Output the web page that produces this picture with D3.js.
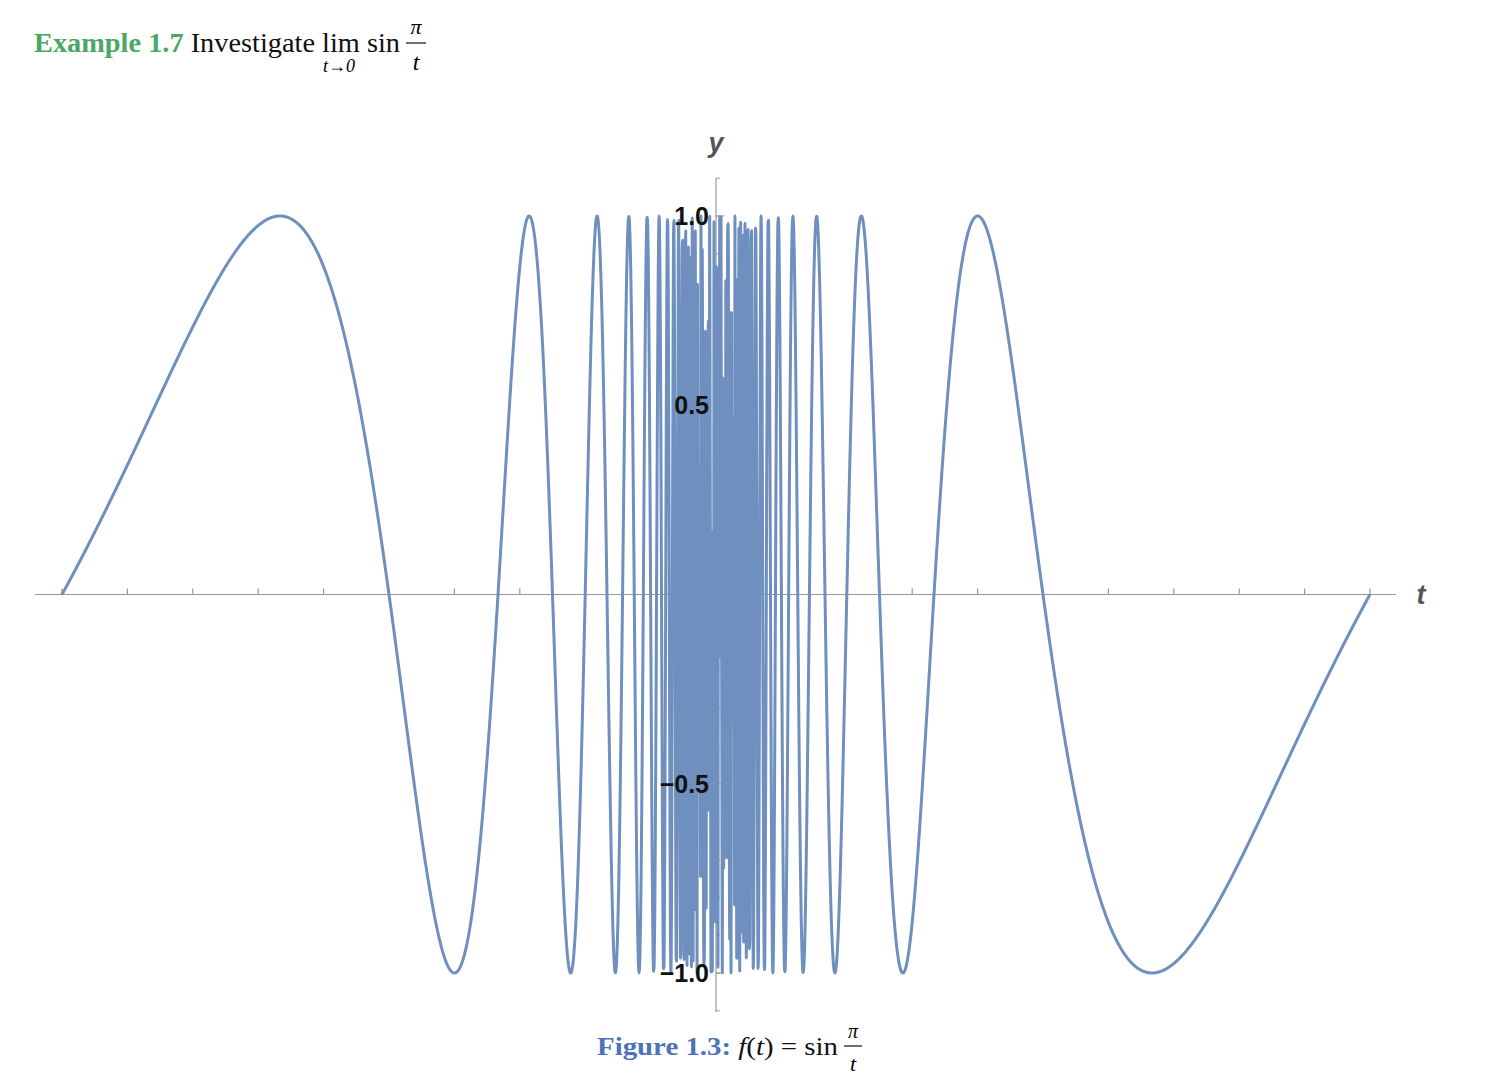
<!DOCTYPE html>
<html><head><meta charset="utf-8">
<script src="https://cdn.jsdelivr.net/npm/d3@7"></script>
<style>body{margin:0;background:#fff}</style>
</head><body>
<svg id="c" width="1508" height="1086"></svg>
<script>
// f(t) = sin(pi / t) on [-1, 1]
const tDomain = [-1, 1];
const yDomain = [-1, 1];
const sampleCount = 3001;
const xTicks = d3.range(-1, 1.0001, 0.1);
const yTickValues = [-1, -0.5, 0.5, 1];
const yTickLabels = ["\u22121.0", "\u22120.5", "0.5", "1.0"];
const f = t => Math.sin(Math.PI / t);

const svg = d3.select("#c");
const x = d3.scaleLinear().domain(tDomain).range([62, 1370]);
const y = d3.scaleLinear().domain(yDomain).range([973, 216]);
const x0 = x(0), y0 = y(0);
const serif = "Liberation Serif, Times New Roman, serif";

// title
const title = svg.append("text").attr("x", 34).attr("y", 52)
  .attr("font-family", serif).attr("font-size", 28)
  .attr("textLength", 366).attr("lengthAdjust", "spacingAndGlyphs");
title.append("tspan").attr("fill", "#4aa866").attr("font-weight", "bold").text("Example 1.7");
title.append("tspan").attr("fill", "#111").text(" Investigate lim sin");
svg.append("text").attr("x", 339).attr("y", 72).attr("text-anchor", "middle").attr("font-family", serif)
  .attr("font-style", "italic").attr("font-size", 18).text("t\u21920");
svg.append("text").attr("x", 416).attr("y", 34).attr("text-anchor", "middle").attr("font-family", serif)
  .attr("font-style", "italic").attr("font-size", 22).text("\u03c0");
svg.append("line").attr("x1", 406).attr("x2", 426).attr("y1", 43).attr("y2", 43).attr("stroke", "#111").attr("stroke-width", 1.2);
svg.append("text").attr("x", 416).attr("y", 70).attr("text-anchor", "middle").attr("font-family", serif)
  .attr("font-style", "italic").attr("font-size", 24).text("t");

// axes
svg.append("line").attr("x1", 35).attr("x2", 1396).attr("y1", y0).attr("y2", y0).attr("stroke", "#999").attr("stroke-width", 1.2);
svg.append("line").attr("x1", x0).attr("x2", x0).attr("y1", 178).attr("y2", 1012).attr("stroke", "#999").attr("stroke-width", 1.2);
svg.selectAll(".xt").data(xTicks.filter(d => Math.abs(d) > 1e-9)).join("line")
  .attr("x1", d => x(d)).attr("x2", d => x(d)).attr("y1", y0 - 6).attr("y2", y0)
  .attr("stroke", "#999").attr("stroke-width", 1.2);
const yMinor = d3.range(-1.1, 1.1001, 0.1);
svg.selectAll(".ym").data(yMinor).join("line")
  .attr("x1", x0).attr("x2", x0 + 4).attr("y1", d => y(d)).attr("y2", d => y(d))
  .attr("stroke", "#999").attr("stroke-width", 1);
svg.selectAll(".yM").data(yTickValues).join("line")
  .attr("x1", x0).attr("x2", x0 + 8).attr("y1", d => y(d)).attr("y2", d => y(d))
  .attr("stroke", "#999").attr("stroke-width", 1.2);

// curve
const pts = d3.range(sampleCount + 1).map(i => tDomain[0] + (tDomain[1] - tDomain[0]) * i / sampleCount)
  .filter(t => t !== 0).map(t => [t, f(t)]);
svg.append("path").datum(pts).attr("fill", "none").attr("stroke", "#6f8fbf").attr("stroke-width", 3)
  .attr("stroke-linejoin", "round")
  .attr("d", d3.line().curve(d3.curveMonotoneX).x(d => x(d[0])).y(d => y(d[1])));

// tick labels
svg.selectAll(".yl").data(yTickValues).join("text")
  .attr("x", x0 - 7).attr("y", d => y(d) + 9).attr("text-anchor", "end")
  .attr("font-family", "Liberation Sans, Arial, sans-serif").attr("font-weight", "bold").attr("font-size", 25)
  .attr("fill", "#111").text((d, i) => yTickLabels[i]);

// axis labels
svg.append("text").attr("x", x0).attr("y", 152).attr("text-anchor", "middle")
  .attr("font-family", "Liberation Sans, Arial, sans-serif").attr("font-weight", "bold").attr("font-style", "italic")
  .attr("font-size", 27).attr("fill", "#555").text("y");
svg.append("text").attr("x", 1421).attr("y", 604).attr("text-anchor", "middle")
  .attr("font-family", "Liberation Sans, Arial, sans-serif").attr("font-weight", "bold").attr("font-style", "italic")
  .attr("font-size", 27).attr("fill", "#555").text("t");

// caption
const cap = svg.append("text").attr("x", 597).attr("y", 1055).attr("font-family", serif).attr("font-size", 26)
  .attr("textLength", 241).attr("lengthAdjust", "spacingAndGlyphs");
cap.append("tspan").attr("fill", "#4d72b8").attr("font-weight", "bold").text("Figure 1.3:");
cap.append("tspan").attr("fill", "#111").attr("font-style", "italic").text(" f");
cap.append("tspan").attr("fill", "#111").text("(");
cap.append("tspan").attr("fill", "#111").attr("font-style", "italic").text("t");
cap.append("tspan").attr("fill", "#111").text(") = sin");
svg.append("text").attr("x", 853).attr("y", 1038).attr("text-anchor", "middle").attr("font-family", serif)
  .attr("font-style", "italic").attr("font-size", 20).text("\u03c0");
svg.append("line").attr("x1", 844).attr("x2", 862).attr("y1", 1046).attr("y2", 1046).attr("stroke", "#111").attr("stroke-width", 1.2);
svg.append("text").attr("x", 853).attr("y", 1071).attr("text-anchor", "middle").attr("font-family", serif)
  .attr("font-style", "italic").attr("font-size", 22).text("t");
</script>
</body></html>
